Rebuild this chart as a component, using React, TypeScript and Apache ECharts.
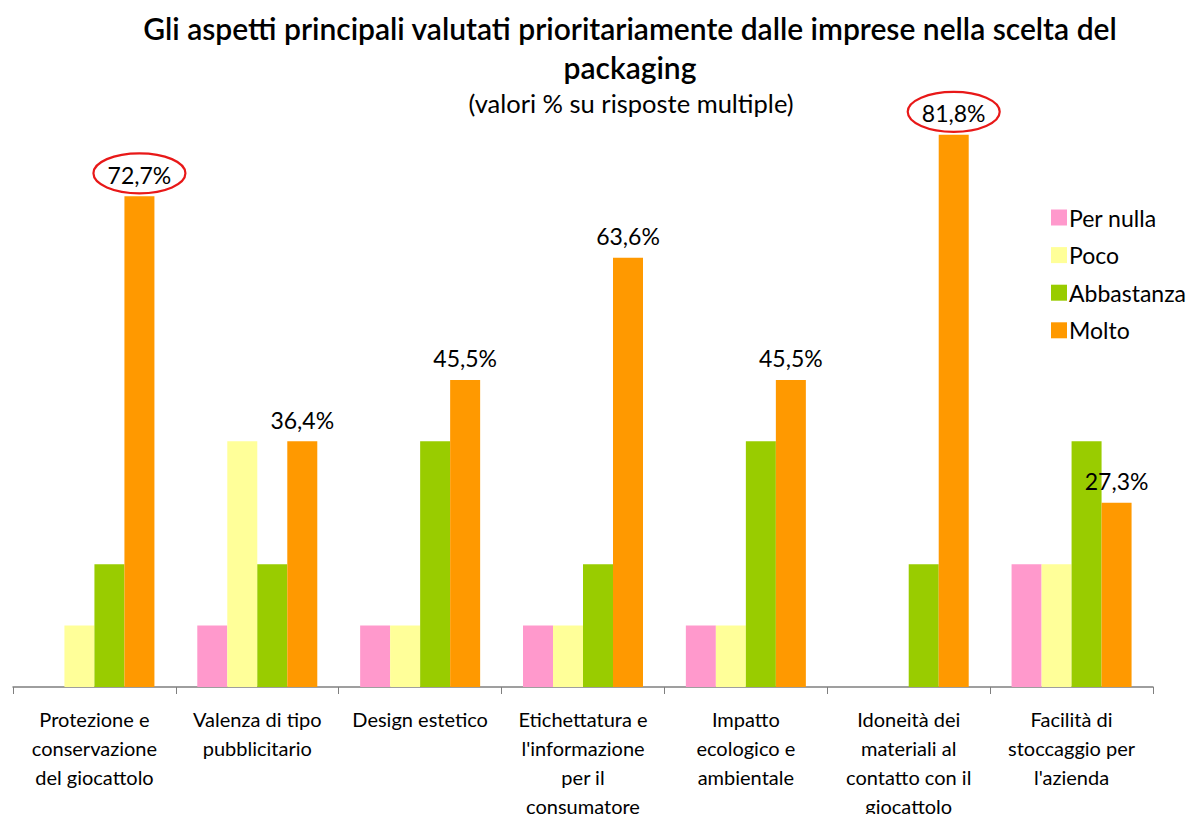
import React, { useEffect, useRef } from "react";
import * as echarts from "echarts";

const categories = [
  "Protezione e\nconservazione\ndel giocattolo",
  "Valenza di tipo\npubblicitario",
  "Design estetico",
  "Etichettatura e\nl'informazione\nper il\nconsumatore",
  "Impatto\necologico e\nambientale",
  "Idoneità dei\nmateriali al\ncontatto con il\ngiocattolo",
  "Facilità di\nstoccaggio per\nl'azienda",
];
const seriesNames = ["Per nulla", "Poco", "Abbastanza", "Molto"];
const perNulla = [0, 9.1, 9.1, 9.1, 9.1, 0, 18.2];
const poco = [9.1, 36.4, 9.1, 9.1, 9.1, 0, 18.2];
const abbastanza = [18.2, 18.2, 36.4, 18.2, 36.4, 18.2, 36.4];
const molto = [72.7, 36.4, 45.5, 63.6, 45.5, 81.8, 27.3];
const colors = ["#FF99CC", "#FFFF99", "#99CC00", "#FF9900"];
const highlighted = [0, 5];

const titleLine1 = "Gli aspetti principali valutati prioritariamente dalle imprese nella scelta del";
const titleLine2 = "packaging";
const subtitle = "(valori % su risposte multiple)";

const FONT = "Lato, 'Noto Sans', sans-serif";

export default function App() {
  const ref = useRef<HTMLDivElement>(null);
  useEffect(() => {
    document.body.style.margin = "0";
    const chart = echarts.init(ref.current!, null, { renderer: "svg" });
    const data = [perNulla, poco, abbastanza, molto];
    const option: any = {
      animation: false,
      textStyle: { fontFamily: FONT },
      color: colors,
      grid: { left: 13, right: 41, top: 12, bottom: 127, containLabel: false, outerBoundsMode: "none" },
      legend: {
        orient: "vertical",
        left: 1046,
        top: 201,
        itemWidth: 16,
        itemHeight: 16,
        itemGap: 14.6,
        icon: "rect",
        textStyle: { fontSize: 23, color: "#000", fontFamily: FONT, padding: [0, 0, 0, -3] },
        data: seriesNames,
      },
      xAxis: {
        type: "category",
        data: categories,
        axisLine: { lineStyle: { color: "#7f7f7f", width: 1.5 } },
        axisTick: { show: true, length: 7, lineStyle: { color: "#7f7f7f" } },
        axisLabel: {
          interval: 0,
          fontSize: 20,
          lineHeight: 29,
          color: "#000",
          margin: 17,
          fontFamily: FONT,
        },
      },
      yAxis: { type: "value", min: 0, max: 100, show: false, splitLine: { show: false } },
      series: seriesNames.map((name, i) => ({
        name,
        type: "bar",
        data: data[i],
        barWidth: 30,
        barGap: "0%",
        itemStyle: { color: colors[i] },
        label:
          i === 3
            ? {
                show: true,
                position: "top",
                distance: 10,
                fontSize: 23,
                color: "#000",
                fontFamily: FONT,
                formatter: (p: any) => p.value.toFixed(1).replace(".", ",") + "%",
              }
            : { show: false },
      })),
    };
    chart.setOption(option);
    const ellipses = highlighted.map((idx) => {
      const pt = chart.convertToPixel({ seriesIndex: 3 }, [idx, molto[idx]]);
      return {
        type: "ellipse",
        shape: { cx: pt[0] + 45, cy: pt[1] - 23, rx: 46, ry: 20 },
        style: { fill: "none", stroke: "#E81818", lineWidth: 2.2 },
        z: 10,
      };
    });
    const titleStyle = {
      fontSize: 30,
      fontWeight: 600,
      fontFamily: FONT,
      fill: "#000",
      textAlign: "center",
      textVerticalAlign: "middle",
    };
    chart.setOption({
      graphic: [
        { type: "text", x: 630, y: 28, style: { ...titleStyle, text: titleLine1 } },
        { type: "text", x: 630, y: 67, style: { ...titleStyle, text: titleLine2 } },
        {
          type: "text",
          x: 631,
          y: 103,
          style: {
            text: subtitle,
            fontSize: 25.5,
            fontFamily: FONT,
            fill: "#000",
            textAlign: "center",
            textVerticalAlign: "middle",
          },
        },
        ...ellipses,
      ],
    });
    return () => chart.dispose();
  }, []);
  return <div ref={ref} style={{ width: 1194, height: 814 }} />;
}
